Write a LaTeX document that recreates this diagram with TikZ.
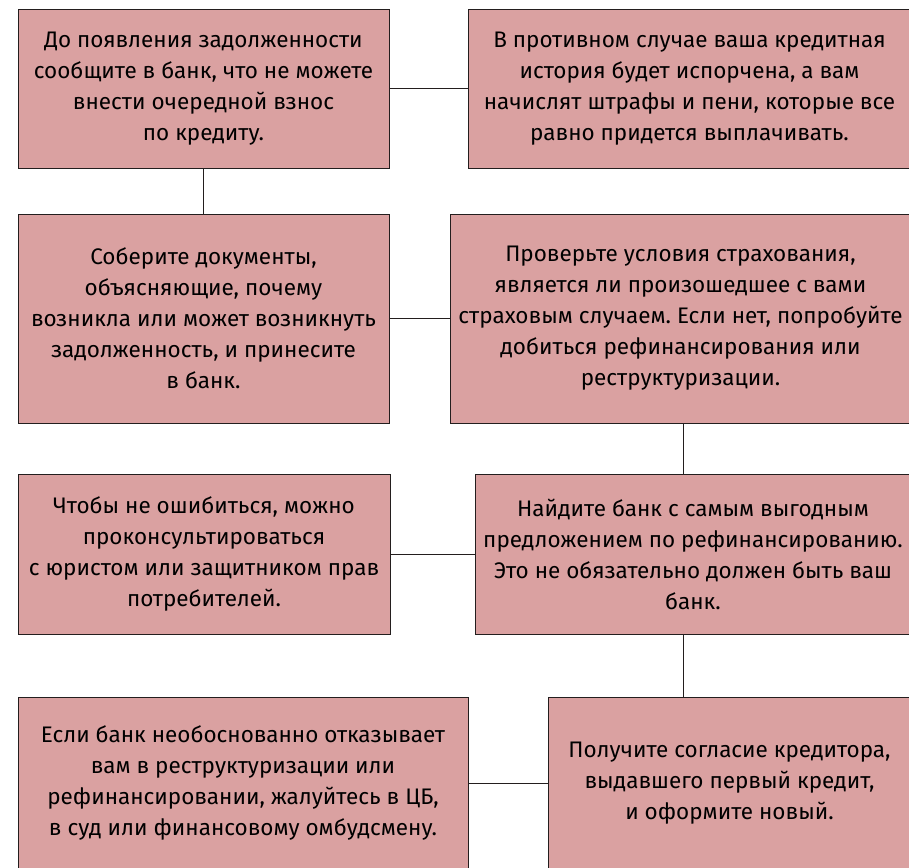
\documentclass[tikz,border=0pt]{standalone}
\usepackage{fontspec}
\setmainfont{Fira Sans}
\usepackage{tikz}
\usetikzlibrary{positioning}
\definecolor{boxpink}{RGB}{218, 161, 161}
\definecolor{edgegray}{RGB}{35, 30, 30}
\frenchspacing

\tikzset{
    box/.style={draw=edgegray, fill=boxpink, line width=0.9pt, align=center,
        inner sep=0pt, font=\fontsize{22.5}{31}\selectfont},
    link/.style={draw=edgegray, line width=0.9pt}
}

\begin{document}
\begin{tikzpicture}[x=1pt, y=-1pt]
    \useasboundingbox (0,0) rectangle (909,867);
    \clip (0,0) rectangle (909,867);
    % Steps
    \node[box, minimum width=371pt, minimum height=159pt] (warn) at (203.5, 88.5) {
        До появления задолженности\\
        сообщите в банк, что не можете\\
        внести очередной взнос\\
        по кредиту.
    };
    \node[box, minimum width=443pt, minimum height=159pt] (history) at (689.5, 88.5) {
        В противном случае ваша кредитная\\
        история будет испорчена, а вам\\
        начислят штрафы и пени, которые все\\
        равно придется выплачивать.
    };
    \node[box, minimum width=371pt, minimum height=209pt] (docs) at (203.5, 318.5) {
        Соберите документы,\\
        объясняющие, почему\\
        возникла или может возникнуть\\
        задолженность, и принесите\\
        в банк.
    };
    \node[box, minimum width=461pt, minimum height=209pt] (insurance) at (680.5, 318.5) {
        Проверьте условия страхования,\\
        является ли произошедшее с вами\\
        страховым случаем. Если нет, попробуйте\\
        добиться рефинансирования или\\
        реструктуризации.
    };
    \node[box, minimum width=372pt, minimum height=160pt] (lawyer) at (204, 554) {
        Чтобы не ошибиться, можно\\
        проконсультироваться\\
        с юристом или защитником прав\\
        потребителей.
    };
    \node[box, minimum width=436pt, minimum height=160pt] (refin) at (693, 554) {
        Найдите банк с самым выгодным\\
        предложением по рефинансированию.\\
        Это не обязательно должен быть ваш\\
        банк.
    };
    \node[box, minimum width=450pt, minimum height=172pt] (complain) at (243, 783) {
        Если банк необоснованно отказывает\\
        вам в реструктуризации или\\
        рефинансировании, жалуйтесь в ЦБ,\\
        в суд или финансовому омбудсмену.
    };
    \node[box, minimum width=363pt, minimum height=172pt] (consent) at (729.5, 783) {
        Получите согласие кредитора,\\
        выдавшего первый кредит,\\
        и оформите новый.
    };
    \coordinate (spine) at (683, 0);

    % Links
    \draw[link] (warn) -- (history);
    \draw[link] (warn) -- (docs);
    \draw[link] (docs) -- (docs -| insurance.west);
    \draw[link] (insurance.south -| spine) -- (refin.north -| spine);
    \draw[link] (lawyer) -- (lawyer -| refin.west);
    \draw[link] (refin.south -| spine) -- (consent.north -| spine);
    \draw[link] (complain) -- (complain -| consent.west);
\end{tikzpicture}
\end{document}
